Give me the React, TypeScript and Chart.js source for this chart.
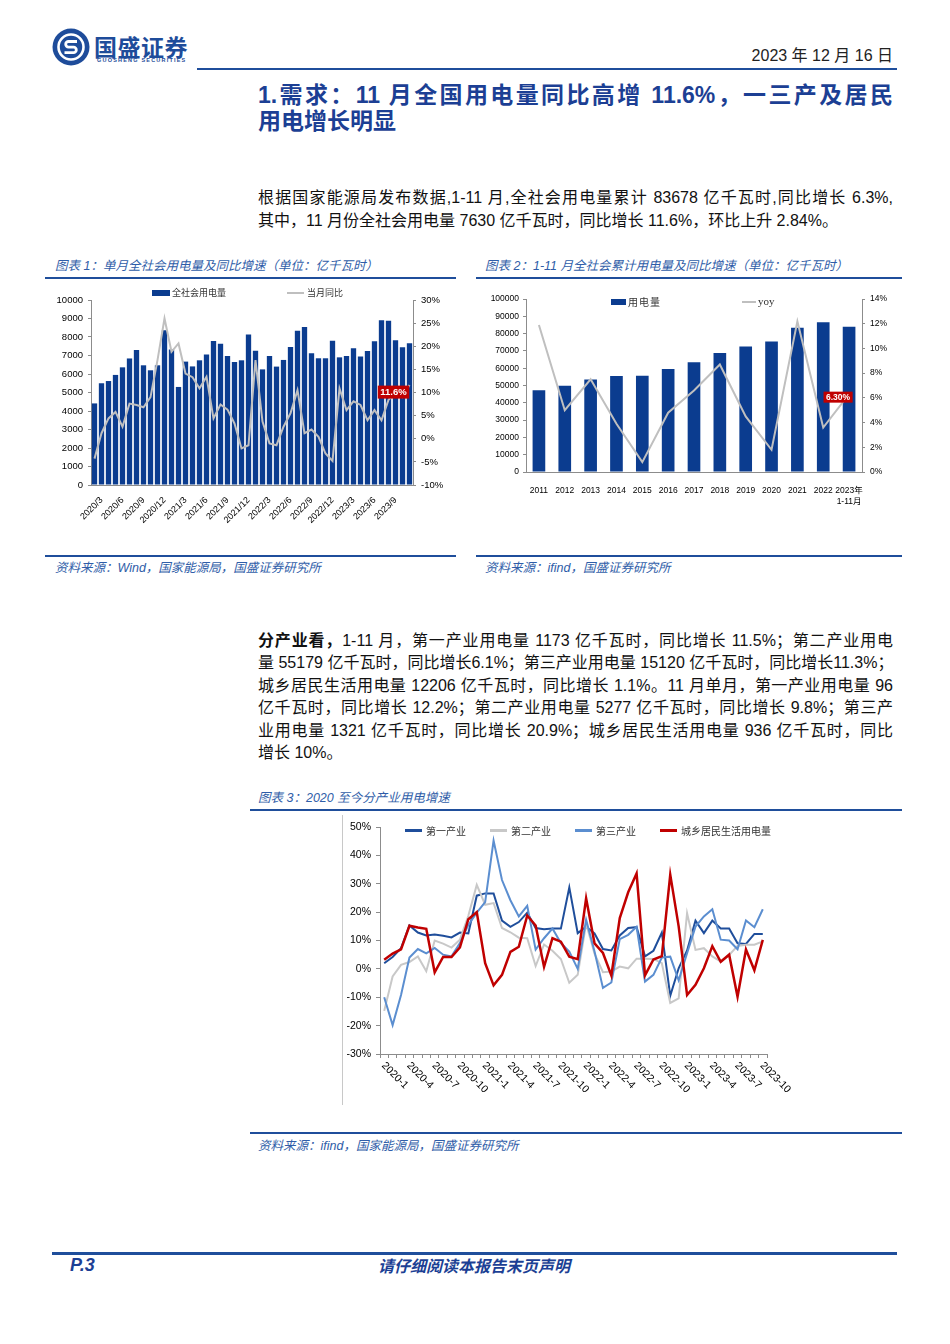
import React, { useEffect, useRef } from "react";
import { Chart, registerables } from "chart.js";
Chart.register(...registerables);

// ---------- Chart 1: monthly power consumption & YoY ----------
const ch1Months = [
  "2020/2", "2020/3", "2020/4", "2020/5", "2020/6", "2020/7", "2020/8", "2020/9", "2020/10", "2020/11", "2020/12",
  "2021/1", "2021/2", "2021/3", "2021/4", "2021/5", "2021/6", "2021/7", "2021/8", "2021/9", "2021/10", "2021/11", "2021/12",
  "2022/1", "2022/2", "2022/3", "2022/4", "2022/5", "2022/6", "2022/7", "2022/8", "2022/9", "2022/10", "2022/11", "2022/12",
  "2023/1", "2023/2", "2023/3", "2023/4", "2023/5", "2023/6", "2023/7", "2023/8", "2023/9", "2023/10", "2023/11",
];
const ch1Power = [
  4410, 5500, 5620, 5950, 6360, 6840, 7300, 6470, 6200, 6470,
  8370, 7330, 5300, 6670, 6410, 6740, 7060, 7780, 7640, 6970,
  6650, 6740, 8140, 7260, 6250, 6970, 6400, 6760, 7460, 8340,
  8540, 7120, 6850, 6850, 7800, 6900, 6970, 7390, 6940, 7240,
  7770, 8900, 8880, 7820, 7440, 7660,
];
const ch1Yoy = [
  -4.3, 1.2, 4.4, 5.8, 2.6, 7.6, 7.3, 6.8, 9.0, 17.0,
  26.0, 18.8, 20.6, 14.1, 13.3, 10.9, 13.4, 4.4, 7.4, 6.3,
  3.3, -2.1, -1.4, 17.0, 3.7, -1.0, -1.4, 2.6, 5.5, 10.5,
  1.2, 2.0, 0.4, -3.2, -4.8, 10.9, 6.2, 8.1, 7.3, 4.0,
  6.2, 4.0, 8.4, 10.0, 9.0, 11.6,
];
const ch1Tag = "11.6%";

// ---------- Chart 2: cumulative Jan-Nov consumption & YoY ----------
const ch2Years: (string | string[])[] = [
  "2011", "2012", "2013", "2014", "2015", "2016", "2017", "2018", "2019", "2020", "2021", "2022", ["2023年", "1-11月"],
];
const ch2Power = [47200, 49800, 53500, 55500, 55700, 59500, 63400, 68800, 72500, 75400, 83400, 86600, 84000];
const ch2Yoy = [11.9, 5.0, 7.5, 3.9, 0.8, 4.8, 6.6, 8.7, 4.5, 1.8, 12.2, 3.6, 6.3];
const ch2Tag = "6.30%";

// ---------- Chart 3: growth by sector ----------
const ch3Months = [
  "2020-1", "2020-2", "2020-3", "2020-4", "2020-5", "2020-6", "2020-7", "2020-8", "2020-9", "2020-10", "2020-11", "2020-12",
  "2021-1", "2021-2", "2021-3", "2021-4", "2021-5", "2021-6", "2021-7", "2021-8", "2021-9", "2021-10", "2021-11", "2021-12",
  "2022-1", "2022-2", "2022-3", "2022-4", "2022-5", "2022-6", "2022-7", "2022-8", "2022-9", "2022-10", "2022-11", "2022-12",
  "2023-1", "2023-2", "2023-3", "2023-4", "2023-5", "2023-6", "2023-7", "2023-8", "2023-9", "2023-10",
];
const ch3Primary = [
  2.0, 4.2, 7.3, 15.3, 12.8, 11.8, 12.1, 11.7, 11.1, 12.8,
  12.5, 25.8, 26.6, 26.6, 17.0, 14.8, 16.5, 19.8, 14.4, 14.0,
  14.2, 14.2, 28.7, 12.6, 14.8, 12.5, 7.0, 6.5, 11.8, 14.4,
  14.7, 4.4, 6.4, 12.8, -9.5, 0.2, 6.5, 17.0, 12.6, 17.0,
  14.2, 14.2, 9.0, 8.8, 12.3, 12.3,
];
const ch3Secondary = [
  -14.8, -2.7, 1.4, 2.4, 4.4, -0.8, 10.0, 8.9, 7.5, 10.3,
  18.7, 29.6, 22.6, 23.2, 14.4, 12.9, 11.0, 10.8, 1.0, 8.6,
  6.4, 3.5, -4.9, -2.1, 16.0, 5.4, -1.2, -0.9, 0.8, 0.2,
  3.6, 3.6, 3.5, 2.0, -12.0, -10.4, 19.6, 6.7, 7.3, 4.4,
  2.6, 4.9, 8.1, 8.5, 8.5, 9.7,
];
const ch3Tertiary = [
  -10.0, -19.8, -9.2, 4.0, 7.0, 5.5, 7.4, 5.0, 4.4, 9.1,
  15.5, 19.8, 23.5, 45.2, 31.3, 24.2, 18.5, 22.2, 6.8, 10.8,
  14.2, 9.1, 6.1, 0.0, 17.3, 6.1, -6.7, -4.8, 10.5, 12.0,
  14.8, -4.5, -2.1, 4.0, 4.3, -4.0, 5.5, 14.9, 18.5, 21.0,
  10.3, 10.0, 6.9, 17.1, 14.7, 21.0,
];
const ch3Resident = [
  3.2, 5.4, 6.9, 15.2, 14.6, 14.1, -1.2, 4.2, 4.2, 7.6,
  17.5, 20.0, 2.0, -5.8, -2.1, 6.0, 7.8, 18.8, 15.3, 0.7,
  10.8, 9.6, 4.3, 3.4, 24.9, 9.0, 5.6, -2.3, 17.9, 27.0,
  33.6, -2.3, 3.3, 4.5, 33.2, 15.0, -9.2, -5.6, 0.2, 8.0,
  2.5, 5.0, -9.8, 6.8, -0.5, 10.2,
];

// ---------- styles ----------
const BAR = "#0B3C8F";
const AXIS = "#8C8C8C";
const NAVY = "#1C3F94";
const LINKBLUE = "#2F5DA8";
const C_PRIMARY = "#1F4E9B";
const C_SECONDARY = "#C8C8C8";
const C_TERTIARY = "#5B8ED0";
const C_RESIDENT = "#C00000";
const NUM_FONT = "'Liberation Sans', Arial, 'Noto Sans CJK SC', sans-serif";
const CJK_FONT = "'Noto Sans CJK SC', sans-serif";
const TEXT_FONT = "'Liberation Sans', 'Noto Sans CJK SC', sans-serif";

Chart.defaults.font.family = NUM_FONT;

function tagPlugin(text: string, axisId: string, dx: number, dy: number, size: number, h: number) {
  return {
    id: "tag_" + axisId,
    afterDatasetsDraw(chart: any) {
      const ds = chart.data.datasets.find((d: any) => d.yAxisID === axisId);
      const n = ds.data.length - 1;
      const x = chart.scales.x.getPixelForValue(n) + dx;
      const y = chart.scales[axisId].getPixelForValue(ds.data[n]) + dy;
      const ctx = chart.ctx;
      ctx.save();
      ctx.font = `bold ${size}px ${NUM_FONT}`;
      const w = ctx.measureText(text).width + 5;
      ctx.fillStyle = "#C00000";
      ctx.fillRect(x - w / 2, y - h / 2, w, h);
      ctx.fillStyle = "#fff";
      ctx.textAlign = "center";
      ctx.textBaseline = "middle";
      ctx.fillText(text, x, y + 0.5);
      ctx.restore();
    },
  };
}

const slantLabels = {
  id: "slantLabels",
  afterDraw(chart: any) {
    const sx = chart.scales.x;
    const ctx = chart.ctx;
    ctx.save();
    ctx.font = `10.5px ${NUM_FONT}`;
    ctx.fillStyle = "#000";
    ctx.textAlign = "left";
    ctx.textBaseline = "middle";
    ch3Months.forEach((m, i) => {
      if (i % 3 !== 0) return;
      const x = sx.getPixelForValue(i);
      ctx.save();
      ctx.translate(x - 1, sx.top + 10);
      ctx.rotate(Math.PI / 4);
      ctx.fillText(m, 0, 0);
      ctx.restore();
    });
    ctx.restore();
  },
};

function makeChart1(canvas: HTMLCanvasElement) {
  return new Chart(canvas, {
    type: "bar",
    data: {
      labels: ch1Months,
      datasets: [
        { type: "line", label: "当月同比", data: ch1Yoy, yAxisID: "y1", borderColor: "#BFBFBF", borderWidth: 2, pointRadius: 0, tension: 0, order: 0 } as any,
        { type: "bar", label: "全社会用电量", data: ch1Power, yAxisID: "y", backgroundColor: BAR, barPercentage: 0.76, categoryPercentage: 1, order: 1 } as any,
      ],
    },
    options: {
      responsive: false,
      animation: false,
      layout: { padding: { top: 16, left: 0, right: 0, bottom: 0 } },
      plugins: { legend: { display: false }, tooltip: { enabled: false } },
      scales: {
        x: {
          offset: true,
          grid: { display: false },
          border: { color: AXIS },
          ticks: {
            autoSkip: false, minRotation: 45, maxRotation: 45, padding: 2, color: "#000", font: { size: 9 },
            callback: (_v: any, i: number) => {
              const m = Number(ch1Months[i].split("/")[1]);
              return m % 3 === 0 ? ch1Months[i] : "";
            },
          },
          afterFit: (s: any) => { s.height = 69; },
        },
        y: {
          position: "left", min: 0, max: 10000,
          ticks: { stepSize: 1000, padding: 5, color: "#000", font: { size: 9.5 }, callback: (v: any) => String(v) },
          grid: { drawOnChartArea: false, tickLength: 3, color: AXIS },
          border: { color: AXIS },
          afterFit: (s: any) => { s.width = 46; },
        },
        y1: {
          position: "right", min: -10, max: 30,
          ticks: { stepSize: 5, padding: 5, color: "#000", font: { size: 9.5 }, callback: (v: any) => v + "%" },
          grid: { drawOnChartArea: false, tickLength: 3, color: AXIS },
          border: { color: AXIS },
          afterFit: (s: any) => { s.width = 43; },
        },
      },
    } as any,
    plugins: [tagPlugin(ch1Tag, "y1", -16, 7, 9.5, 13)],
  });
}

function makeChart2(canvas: HTMLCanvasElement) {
  return new Chart(canvas, {
    type: "bar",
    data: {
      labels: ch2Years as any,
      datasets: [
        { type: "line", label: "yoy", data: ch2Yoy, yAxisID: "y1", borderColor: "#BFBFBF", borderWidth: 2, pointRadius: 0, tension: 0, order: 0 } as any,
        { type: "bar", label: "用电量", data: ch2Power, yAxisID: "y", backgroundColor: BAR, barPercentage: 0.49, categoryPercentage: 1, order: 1 } as any,
      ],
    },
    options: {
      responsive: false,
      animation: false,
      layout: { padding: { top: 15, left: 0, right: 0, bottom: 0 } },
      plugins: { legend: { display: false }, tooltip: { enabled: false } },
      scales: {
        x: {
          offset: true,
          grid: { display: false },
          border: { color: AXIS },
          ticks: { autoSkip: false, minRotation: 0, maxRotation: 0, padding: 6, color: "#000", font: { size: 8.5 } },
          afterFit: (s: any) => { s.height = 82; },
        },
        y: {
          position: "left", min: 0, max: 100000,
          ticks: { stepSize: 10000, padding: 4, color: "#000", font: { size: 8.5 }, callback: (v: any) => String(v) },
          grid: { drawOnChartArea: false, tickLength: 3, color: AXIS },
          border: { color: AXIS },
          afterFit: (s: any) => { s.width = 50; },
        },
        y1: {
          position: "right", min: 0, max: 14,
          ticks: { stepSize: 2, padding: 5, color: "#000", font: { size: 8.5 }, callback: (v: any) => v + "%" },
          grid: { drawOnChartArea: false, tickLength: 3, color: AXIS },
          border: { color: AXIS },
          afterFit: (s: any) => { s.width = 40; },
        },
      },
    } as any,
    plugins: [tagPlugin(ch2Tag, "y1", -11, 3, 8.5, 11)],
  });
}

function makeChart3(canvas: HTMLCanvasElement) {
  const line = (label: string, data: number[], color: string, width: number, order: number) => ({
    label, data, borderColor: color, borderWidth: width, pointRadius: 0, tension: 0, order,
  });
  return new Chart(canvas, {
    type: "line",
    data: {
      labels: ch3Months,
      datasets: [
        line("第一产业", ch3Primary, C_PRIMARY, 2, 4),
        line("第二产业", ch3Secondary, C_SECONDARY, 2, 3),
        line("第三产业", ch3Tertiary, C_TERTIARY, 2, 2),
        line("城乡居民生活用电量", ch3Resident, C_RESIDENT, 2.5, 1),
      ],
    },
    options: {
      responsive: false,
      animation: false,
      layout: { padding: { top: 12, left: 0, right: 33, bottom: 0 } },
      plugins: { legend: { display: false }, tooltip: { enabled: false } },
      scales: {
        x: {
          offset: true,
          grid: { offset: true, drawOnChartArea: false, tickLength: 4, color: AXIS },
          border: { color: AXIS },
          ticks: { display: false, autoSkip: false },
          afterFit: (s: any) => { s.height = 56; },
        },
        y: {
          min: -30, max: 50,
          ticks: { stepSize: 10, padding: 5, color: "#000", font: { size: 10.5 }, callback: (v: any) => v + "%" },
          grid: { drawOnChartArea: false, tickLength: 4, color: AXIS },
          border: { color: AXIS },
          afterFit: (s: any) => { s.width = 38; },
        },
      },
    } as any,
    plugins: [slantLabels],
  });
}

const abs = (x: number, y: number, extra: React.CSSProperties = {}): React.CSSProperties => ({
  position: "absolute", left: x, top: y, whiteSpace: "nowrap", ...extra,
});

function Rule({ x, y, w, h, color = "#1F4E9B" }: { x: number; y: number; w: number; h: number; color?: string }) {
  return <div style={{ position: "absolute", left: x, top: y, width: w, height: h, background: color }} />;
}

function Line({ x, y, w, text, size, lh, justify, style }: any) {
  return (
    <div
      style={abs(x, y, {
        width: w, fontSize: size, lineHeight: lh + "px",
        textAlign: justify ? "justify" : "left",
        textAlignLast: justify ? "justify" : "auto",
        ...style,
      } as any)}
    >
      {text}
    </div>
  );
}

function Swatch({ x, y, w, h, color }: any) {
  return <div style={{ position: "absolute", left: x, top: y, width: w, height: h, background: color }} />;
}

function LegendText({ x, cy, text, size = 9, font = CJK_FONT, spacing = 0 }: any) {
  return (
    <div style={abs(x, cy - 7, { fontSize: size, lineHeight: "14px", color: "#333", fontFamily: font, letterSpacing: spacing })}>{text}</div>
  );
}

export default function App() {
  const c1 = useRef<HTMLCanvasElement>(null);
  const c2 = useRef<HTMLCanvasElement>(null);
  const c3 = useRef<HTMLCanvasElement>(null);

  useEffect(() => {
    const charts = [makeChart1(c1.current!), makeChart2(c2.current!), makeChart3(c3.current!)];
    return () => charts.forEach((c) => c.destroy());
  }, []);

  const para: React.CSSProperties = { fontFamily: TEXT_FONT, color: "#111" };
  const cap: React.CSSProperties = { fontFamily: TEXT_FONT, color: LINKBLUE, fontStyle: "italic" };

  return (
    <div style={{ position: "absolute", left: 0, top: 0, width: 950, height: 1344, background: "#fff", overflow: "hidden" }}>
      {/* header */}
      <svg style={{ position: "absolute", left: 52, top: 28 }} width={38} height={38} viewBox="0 0 38 38">
        <circle cx={19} cy={19} r={18.5} fill="#1E4C9A" />
        <circle cx={19} cy={19} r={12.5} fill="none" stroke="#fff" strokeWidth={2.6} />
        <path d="M25 13.5 H16.5 a2.8 2.8 0 0 0 0 5.6 h5 a2.8 2.8 0 0 1 0 5.6 H12.5" stroke="#fff" strokeWidth={2.8} fill="none" />
      </svg>
      <div style={abs(94, 32, { fontSize: 23, lineHeight: "28px", fontWeight: 700, color: "#1E4C9A", fontFamily: CJK_FONT, letterSpacing: 0.5 })}>国盛证券</div>
      <div style={abs(97, 57, { fontSize: 5.5, lineHeight: "7px", fontWeight: 700, color: "#1E4C9A", fontFamily: NUM_FONT, letterSpacing: 1.2 })}>GUOSHENG SECURITIES</div>
      <div style={abs(700, 45, { width: 193, textAlign: "right", fontSize: 16, lineHeight: "22px", color: "#222", fontFamily: TEXT_FONT })}>2023 年 12 月 16 日</div>
      <Rule x={197} y={68} w={700} h={2} />

      {/* title */}
      <Line x={258} y={82} w={635} size={23} lh={26} justify text="1.需求：11 月全国用电量同比高增 11.6%，一三产及居民" style={{ fontFamily: TEXT_FONT, fontWeight: 700, color: NAVY }} />
      <Line x={258} y={108} w={635} size={23} lh={26} text="用电增长明显" style={{ fontFamily: TEXT_FONT, fontWeight: 700, color: NAVY }} />

      {/* paragraph 1 */}
      <Line x={258} y={185.5} w={635} size={16} lh={23} justify text="根据国家能源局发布数据,1-11 月,全社会用电量累计 83678 亿千瓦时,同比增长 6.3%," style={para} />
      <Line x={258} y={208.5} w={635} size={16} lh={23} text="其中，11 月份全社会用电量 7630 亿千瓦时，同比增长 11.6%，环比上升 2.84%。" style={para} />

      {/* chart 1 */}
      <div style={abs(55, 259, { fontSize: 12.5, lineHeight: "14px", ...cap })}>图表 1：单月全社会用电量及同比增速（单位：亿千瓦时）</div>
      <Rule x={45} y={277} w={411} h={2} />
      <canvas ref={c1} width={411} height={270} style={{ position: "absolute", left: 45, top: 284 }} />
      <Swatch x={152} y={290} w={18} h={5.5} color={BAR} />
      <LegendText x={172} cy={293} text="全社会用电量" size={9} />
      <Swatch x={287} y={292} w={17} h={2} color="#BFBFBF" />
      <LegendText x={307} cy={293} text="当月同比" size={9} />
      <Rule x={45} y={555} w={411} h={1.5} />
      <div style={abs(55, 561, { fontSize: 12.5, lineHeight: "14px", ...cap })}>资料来源：Wind，国家能源局，国盛证券研究所</div>

      {/* chart 2 */}
      <div style={abs(485, 259, { fontSize: 12.5, lineHeight: "14px", ...cap })}>图表 2：1-11 月全社会累计用电量及同比增速（单位：亿千瓦时）</div>
      <Rule x={476} y={277} w={426} h={2} />
      <canvas ref={c2} width={426} height={270} style={{ position: "absolute", left: 476, top: 284 }} />
      <Swatch x={611} y={298.5} w={15} h={6} color={BAR} />
      <LegendText x={628} cy={301.5} text="用电量" size={10} spacing={1} />
      <Swatch x={742} y={301} w={14} h={2} color="#BFBFBF" />
      <LegendText x={758} cy={301} text="yoy" size={11} font="'Liberation Serif', serif" />
      <Rule x={476} y={555} w={426} h={1.5} />
      <div style={abs(485, 561, { fontSize: 12.5, lineHeight: "14px", ...cap })}>资料来源：ifind，国盛证券研究所</div>

      {/* paragraph 2 */}
      <Line x={258} y={630} w={635} size={16} lh={22} justify style={para}
        text={<><b>分产业看，</b>1-11 月，第一产业用电量 1173 亿千瓦时，同比增长 11.5%；第二产业用电</>} />
      <Line x={258} y={652} w={635} size={16} lh={22} justify style={para} text="量 55179 亿千瓦时，同比增长6.1%；第三产业用电量 15120 亿千瓦时，同比增长11.3%；" />
      <Line x={258} y={675} w={635} size={16} lh={22} justify style={para} text="城乡居民生活用电量 12206 亿千瓦时，同比增长 1.1%。11 月单月，第一产业用电量 96" />
      <Line x={258} y={697} w={635} size={16} lh={22} justify style={para} text="亿千瓦时，同比增长 12.2%；第二产业用电量 5277 亿千瓦时，同比增长 9.8%；第三产" />
      <Line x={258} y={720} w={635} size={16} lh={22} justify style={para} text="业用电量 1321 亿千瓦时，同比增长 20.9%；城乡居民生活用电量 936 亿千瓦时，同比" />
      <Line x={258} y={742} w={635} size={16} lh={22} style={para} text="增长 10%。" />

      {/* chart 3 */}
      <div style={abs(258, 791, { fontSize: 12.5, lineHeight: "14px", ...cap })}>图表 3：2020 至今分产业用电增速</div>
      <Rule x={250} y={809} w={652} h={2} />
      <div style={{ position: "absolute", left: 342, top: 815, width: 1, height: 290, background: "#C8C8C8" }} />
      <canvas ref={c3} width={458} height={295} style={{ position: "absolute", left: 342, top: 815 }} />
      <Swatch x={405} y={829} w={17} h={3} color={C_PRIMARY} />
      <LegendText x={426} cy={830.5} text="第一产业" size={10} />
      <Swatch x={490} y={829} w={17} h={3} color={C_SECONDARY} />
      <LegendText x={511} cy={830.5} text="第二产业" size={10} />
      <Swatch x={575} y={829} w={17} h={3} color={C_TERTIARY} />
      <LegendText x={596} cy={830.5} text="第三产业" size={10} />
      <Swatch x={660} y={829} w={17} h={3} color={C_RESIDENT} />
      <LegendText x={681} cy={830.5} text="城乡居民生活用电量" size={10} />
      <Rule x={250} y={1132} w={652} h={1.5} />
      <div style={abs(258, 1139, { fontSize: 12.5, lineHeight: "14px", ...cap })}>资料来源：ifind，国家能源局，国盛证券研究所</div>

      {/* footer */}
      <Rule x={52} y={1252} w={845} h={3} />
      <div style={abs(70, 1255, { fontSize: 18, lineHeight: "20px", fontWeight: 700, fontStyle: "italic", color: NAVY, fontFamily: NUM_FONT })}>P.3</div>
      <div style={abs(378, 1256, { fontSize: 16, lineHeight: "18px", fontWeight: 700, fontStyle: "italic", color: NAVY, fontFamily: CJK_FONT })}>请仔细阅读本报告末页声明</div>
    </div>
  );
}
